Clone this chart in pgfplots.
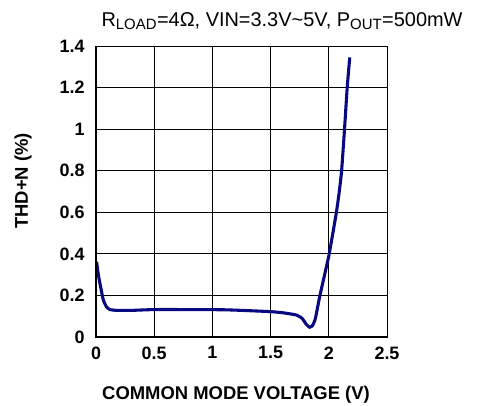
\documentclass[border=0pt]{standalone}
\usepackage{fontspec}
\setmainfont{Liberation Sans}
\usepackage{pgfplots}
\pgfplotsset{compat=1.18}
\definecolor{navy}{RGB}{8,8,128}
\begin{document}
\begin{tikzpicture}[x=1bp,y=1bp]
\useasboundingbox (0,0) rectangle (486,405);
\begin{axis}[
  at={(96bp,68bp)}, anchor=south west, scale only axis,
  width=291bp, height=291bp,
  xmin=0, xmax=2.5, ymin=0, ymax=1.4,
  xtick={0,0.5,1,1.5,2,2.5},
  ytick={0,0.2,0.4,0.6,0.8,1,1.2,1.4},
  xticklabels={0,0.5,1,1.5,2,2.5},
  yticklabels={0,0.2,0.4,0.6,0.8,1,1.2,1.4},
  grid=major,
  major grid style={black, line width=0.9pt},
  major tick length=0pt,
  axis line style={black, line width=0.9pt},
  ticklabel style={font=\bfseries\fontsize{18}{18}\selectfont},
  yticklabel style={anchor=east, xshift=-8bp},
  xticklabel style={anchor=north, yshift=-6bp},
  clip=false,
]
\addplot[navy, line width=3.1pt, smooth, tension=0.3] coordinates {
(0.005,0.362) (0.02,0.30) (0.04,0.24) (0.063,0.178) (0.09,0.145) (0.12,0.132)
(0.18,0.128) (0.3,0.128) (0.5,0.132) (0.8,0.132) (1.1,0.131) (1.3,0.127)
(1.5,0.122) (1.6,0.117) (1.72,0.106) (1.77,0.09) (1.805,0.062) (1.835,0.047)
(1.86,0.055) (1.885,0.09) (1.92,0.19) (1.96,0.29) (2.0,0.39) (2.035,0.50) (2.068,0.61)
(2.09,0.70) (2.11,0.80) (2.135,1.0) (2.158,1.2) (2.18,1.345)
};
\draw[black, line width=2.6pt] (axis cs:0,1.4) -- (axis cs:0,0) -- (axis cs:2.5,0);
\end{axis}
\node[anchor=base, font=\fontsize{20}{20}\selectfont] at (282,379)
  {R\textsubscript{\fontsize{15}{15}\selectfont LOAD}=4Ω, VIN=3.3V\textasciitilde5V, P\textsubscript{\fontsize{15}{15}\selectfont OUT}=500mW};
\node[anchor=base, font=\bfseries\fontsize{18.5}{18.5}\selectfont] at (236,6) {COMMON MODE VOLTAGE (V)};
\node[rotate=90, font=\bfseries\fontsize{18.5}{18.5}\selectfont] at (23,224) {THD+N (\%)};
\end{tikzpicture}
\end{document}
